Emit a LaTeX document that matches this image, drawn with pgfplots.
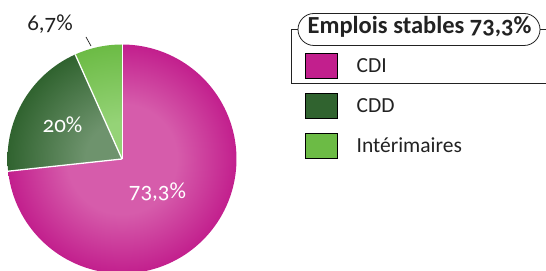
\documentclass[border=0pt]{standalone}
\usepackage{fontspec}
\setmainfont{Carlito}[Numbers=OldStyle]
\usepackage{pgfplots}
\pgfplotsset{compat=1.18}

\definecolor{cdi}{HTML}{C21F8D}
\definecolor{cdiC}{HTML}{D65CAB}
\definecolor{cdd}{HTML}{30632F}
\definecolor{cddC}{HTML}{6E936D}
\definecolor{itm}{HTML}{6CBB45}
\definecolor{itmC}{HTML}{95D377}
\definecolor{txt}{HTML}{222222}

\pgfdeclareradialshading{shcdi}{\pgfpoint{0bp}{0bp}}{color(0bp)=(cdiC); color(12bp)=(cdiC); color(25bp)=(cdi); color(50bp)=(cdi)}
\pgfdeclareradialshading{shcdd}{\pgfpoint{0bp}{0bp}}{color(0bp)=(cddC); color(8bp)=(cddC); color(25bp)=(cdd); color(50bp)=(cdd)}
\pgfdeclareradialshading{shitm}{\pgfpoint{0bp}{0bp}}{color(0bp)=(itmC); color(8bp)=(itmC); color(25bp)=(itm); color(50bp)=(itm)}

% values (percent)
\def\vCDI{73.3}
\def\vCDD{20}
\def\vITM{6.7}
\def\R{114.5}

\begin{document}
\begin{tikzpicture}
\pgfmathsetmacro{\aA}{90-3.6*\vCDI}
\pgfmathsetmacro{\aB}{\aA-3.6*\vCDD}
\pgfmathsetmacro{\aC}{\aB-3.6*\vITM}
\begin{axis}[
  at={(0,0)}, anchor=south west,
  width=546bp, height=271bp, scale only axis,
  xmin=-122, xmax=424, ymin=-112, ymax=159,
  hide axis,
  legend image code/.code={\fill[#1] (0bp,-12.5bp) rectangle (32bp,12.5bp);},
  legend style={at={(axis cs:183,106)}, anchor=north west, draw=none, fill=none,
    inner sep=0pt, row sep=14.5bp, column sep=19bp,
    font=\fontsize{21.5bp}{24bp}\selectfont\color{txt},
    nodes={inner sep=0pt, text height=13.6bp, text depth=0bp}},
  legend cell align=left,
]
\addplot[forget plot, shade, shading=shcdi, draw=none, domain=\aA:90, samples=150, variable=\t]
  ({\R*cos(\t)},{\R*sin(\t)}) -- (axis cs:0,0) -- cycle (axis cs:-\R,-\R) (axis cs:\R,\R);
\addplot[forget plot, shade, shading=shcdd, draw=none, domain=\aB:\aA, samples=60, variable=\t]
  ({\R*cos(\t)},{\R*sin(\t)}) -- (axis cs:0,0) -- cycle (axis cs:-\R,-\R) (axis cs:\R,\R);
\addplot[forget plot, shade, shading=shitm, draw=none, domain=\aC:\aB, samples=30, variable=\t]
  ({\R*cos(\t)},{\R*sin(\t)}) -- (axis cs:0,0) -- cycle (axis cs:-\R,-\R) (axis cs:\R,\R);
% white separators
\addplot[forget plot, white, line width=1.3pt, domain=0:\R, samples=2, variable=\r] ({\r*cos(\aA)},{\r*sin(\aA)});
\addplot[forget plot, white, line width=1.3pt, domain=0:\R, samples=2, variable=\r] ({\r*cos(\aB)},{\r*sin(\aB)});
\addplot[forget plot, white, line width=1.0pt, domain=0:\R, samples=2, variable=\r] ({\r*cos(90)},{\r*sin(90)});
% leader line
\addplot[forget plot, txt, line width=0.7pt] coordinates {(-36,122) (-31,113)};

\addlegendimage{fill=cdi}
\addlegendentry{CDI}
\addlegendimage{fill=cdd}
\addlegendentry{CDD}
\addlegendimage{fill=itm}
\addlegendentry{Intérimaires}

% labels
\node[anchor=base, font=\fontsize{23bp}{26bp}\selectfont, text=txt] at (axis cs:-72,128) {6,7\%};
\node[anchor=base, font=\fontsize{23bp}{26bp}\selectfont, text=white] at (axis cs:-59.5,26) {20\%};
\node[anchor=base, font=\fontsize{23bp}{26bp}\selectfont, text=white] at (axis cs:35.5,-40) {73,3\%};

% legend title and bracket
\draw[txt, line width=0.8pt, rounded corners=16bp] (axis cs:176,113.5) rectangle (axis cs:418,145.5);
\node[anchor=base, font=\bfseries\fontsize{24.5bp}{28bp}\selectfont, text=txt] at (axis cs:297.5,125.5) {Emplois stables 73,3\%};
\draw[txt, line width=0.8pt] (axis cs:176,129.5) -- (axis cs:169.5,129.5) -- (axis cs:169.5,76) -- (axis cs:424,76);
\draw[txt, line width=0.8pt] (axis cs:418,129.5) -- (axis cs:424,129.5);
\end{axis}
\pgfresetboundingbox
\path (0,0) rectangle (546bp,271bp);
\end{tikzpicture}
\end{document}
